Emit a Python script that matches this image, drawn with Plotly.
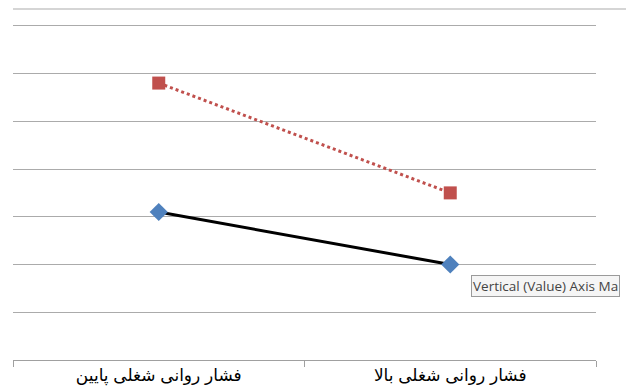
import plotly.graph_objects as go

categories = ["فشار روانی شغلی پایین", "فشار روانی شغلی بالا"]
series_low_values = [3.1, 2.0]     # black solid line, blue diamonds
series_high_values = [5.8, 3.5]    # red dotted line, red squares
tooltip_text = "Vertical (Value) Axis Ma"   # visible part of the tooltip

W, H = 626, 390
ML, MR, MB = 13, 30, 30
YMAX = 7.1
ph = round((360 - 26) * YMAX / 7)
MT = H - MB - ph
pw = W - ML - MR

fig = go.Figure()
fig.add_trace(go.Scatter(
    x=categories, y=series_high_values, mode="lines+markers",
    line=dict(color="#C0504D", width=3, dash="dot"),
    marker=dict(symbol="square", size=13, color="#C0504D"),
    showlegend=False, hoverinfo="skip"))
fig.add_trace(go.Scatter(
    x=categories, y=series_low_values, mode="lines+markers",
    line=dict(color="#000000", width=3),
    marker=dict(symbol="diamond", size=14, color="#4F81BD"),
    showlegend=False, hoverinfo="skip"))

fig.update_layout(
    width=W, height=H,
    margin=dict(l=ML, r=MR, t=MT, b=MB, pad=0),
    paper_bgcolor="white", plot_bgcolor="white",
    font=dict(family="Arial, 'DejaVu Sans', sans-serif", size=13, color="#000"),
    xaxis=dict(type="category", range=[-0.5, 1.5], showgrid=False,
               showline=True, linecolor="#A0A0A0", linewidth=1,
               ticks="outside", tickson="boundaries", ticklen=6,
               tickcolor="#A0A0A0", tickfont=dict(size=17, color="#000"),
               automargin=False),
    yaxis=dict(range=[0, YMAX], dtick=1, showticklabels=False, showgrid=True,
               gridcolor="#ABABAB", gridwidth=1, zeroline=False,
               showline=False, ticks="", automargin=False),
    annotations=[dict(
        text=tooltip_text, xref="paper", yref="paper",
        x=(471 - ML) / pw, y=(360 - 286) / ph, xanchor="left", yanchor="middle",
        showarrow=False, font=dict(family="Open Sans", size=13.5, color="#444"),
        bgcolor="#F5F5F5", bordercolor="#9A9A9A", borderwidth=1, borderpad=1,
        align="left")],
    shapes=[dict(type="line", xref="paper", yref="paper",
                 x0=0, x1=(W - ML) / pw + 0.05, y0=(360 - 9) / ph, y1=(360 - 9) / ph,
                 line=dict(color="#ABABAB", width=1))],
)

fig.write_html("out.html")
